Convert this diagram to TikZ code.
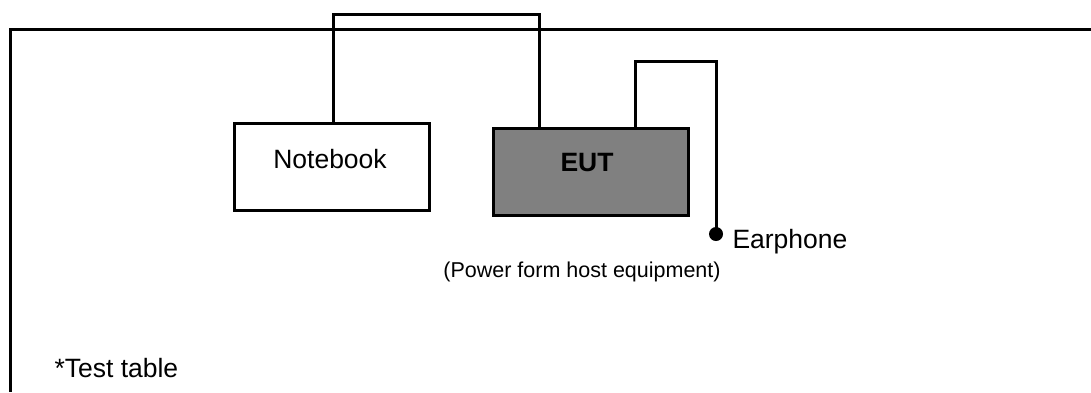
\documentclass[tikz,border=0pt]{standalone}
\usepackage{fontspec}
\setmainfont{Liberation Sans}
\begin{document}
\begin{tikzpicture}[x=1pt,y=-1pt,
  line width=3pt,
  box/.style={draw,line width=3pt,minimum width=195pt,minimum height=87pt,inner sep=0pt,anchor=north west},
  big/.style={font=\fontsize{26.5}{31}\selectfont,inner sep=0pt},
  small/.style={font=\fontsize{21.5}{26}\selectfont,inner sep=0pt}]
\useasboundingbox (0,0) rectangle (1091,392);
% test table
\draw (1091,29) -- (10,29) -- (10,392);
% boxes
\node[box,fill=white] (nb) at (233,122) {};
\node[box,fill=black!50] (eut) at (492,127) {};
\node[big] (nbt) at (330,159) {Notebook};
\node[big,font=\fontsize{26.5}{31}\selectfont\bfseries] (eutt) at (587,163) {EUT};
% connectors
\coordinate (nbc) at ([xshift=1.5pt]nb.north);
\coordinate (eutc) at ([xshift=47pt]eut.north west);
\draw[line cap=rect] (nbc) -- (nbc |- 0,14) -| (eutc);
\coordinate (eutp) at ([xshift=143pt]eut.north west);
\coordinate (ear) at (716,234);
\draw (eutp) |- (ear |- 0,61) -- (ear);
\fill (ear) circle (7pt);
\node[big,anchor=west] (eart) at (731,242) {Earphone};
\node[small] (pwr) at (582,272) {(Power form host equipment)};
\node[big,anchor=west] (tt) at (53,368) {*Test table};
\end{tikzpicture}
\end{document}
